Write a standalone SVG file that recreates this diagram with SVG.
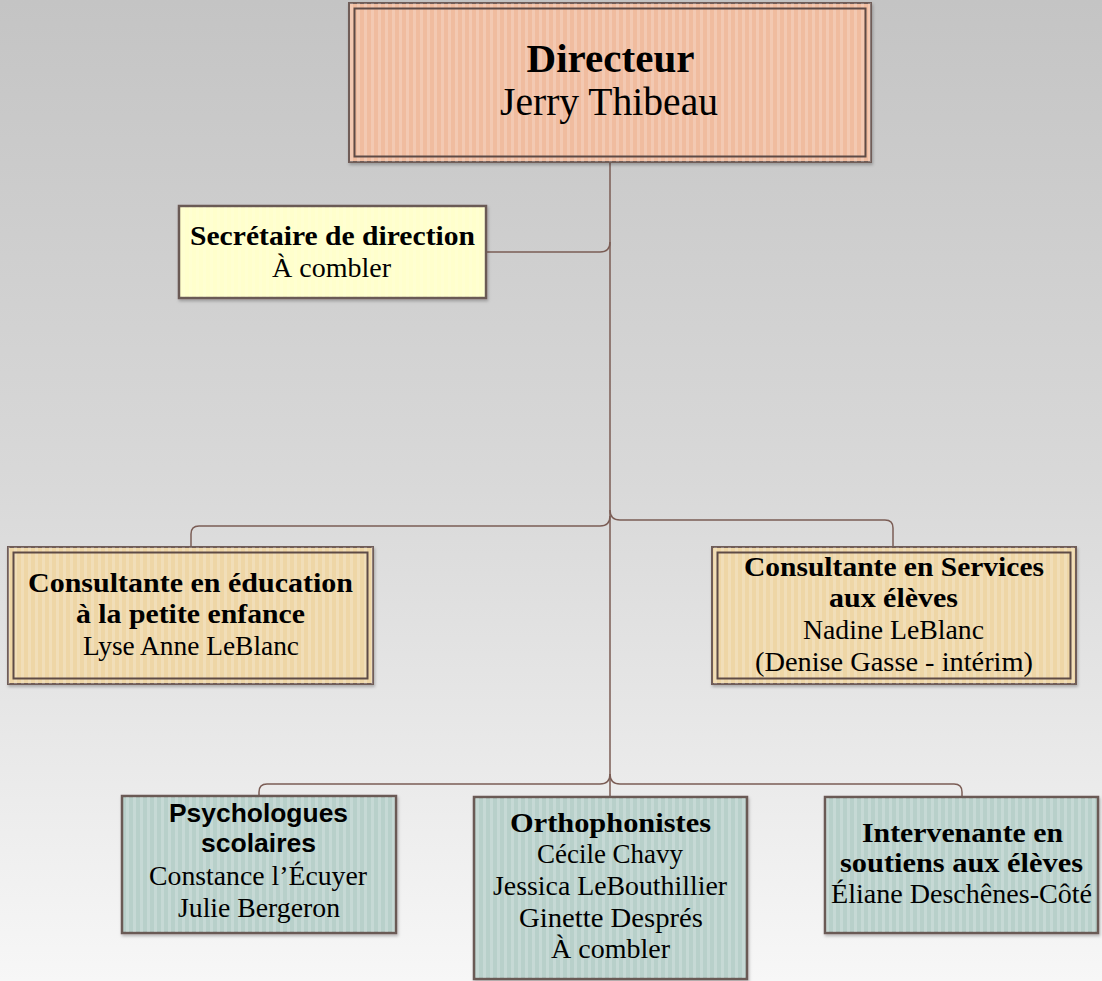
<svg xmlns="http://www.w3.org/2000/svg" width="1102" height="981" viewBox="0 0 1102 981">
<defs>
  <linearGradient id="bg" x1="0" y1="0" x2="0" y2="1">
    <stop offset="0" stop-color="#c4c4c4"/>
    <stop offset="0.5" stop-color="#d9d9d9"/>
    <stop offset="1" stop-color="#f7f7f7"/>
  </linearGradient>
  <pattern id="stripes" width="7" height="10" patternUnits="userSpaceOnUse">
    <rect x="0" y="0" width="3" height="10" fill="#ffffff" fill-opacity="0.2"/>
  </pattern>
  <filter id="sh" x="-5%" y="-5%" width="110%" height="115%">
    <feDropShadow dx="1" dy="2" stdDeviation="1.5" flood-color="#000" flood-opacity="0.25"/>
  </filter>
</defs>
<style>
  .conn { fill: none; stroke: #7b5d55; stroke-width: 1.5; }
  .outer { stroke: #6f5d58; stroke-width: 2; }
  .inner { fill: none; stroke: #5e4b46; stroke-width: 2; }
  .single { stroke: #6b5a55; stroke-width: 2.5; }
  .str { fill: url(#stripes); stroke: none; }
  .t { font-family: "Liberation Serif", "DejaVu Serif", serif; font-size: 27.5px; fill: #000; text-anchor: middle; }
  .b { font-weight: bold; }
  .s { font-family: "Liberation Sans", Arial, sans-serif; font-weight: bold; font-size: 25px; fill: #000; text-anchor: middle; }
  .big { font-size: 40px; }
</style>
<rect x="0" y="0" width="1102" height="981" fill="url(#bg)"/>

<g id="connectors">
  <path class="conn" d="M610 162 V797"/>
  <path class="conn" d="M486 252 H600 Q610 252 610 242"/>
  <path class="conn" d="M610 516 Q610 526 600 526 H199 Q191 526 191 534 V547"/>
  <path class="conn" d="M610 510 Q610 520 620 520 H885 Q893 520 893 528 V547"/>
  <path class="conn" d="M610 774 Q610 784 600 784 H267 Q259 784 259 792 V796"/>
  <path class="conn" d="M610 774 Q610 784 620 784 H954 Q962 784 962 792 V797"/>
</g>

<g id="directeur">
  <rect class="outer" x="349" y="3" width="522" height="159" fill="#f0bc9f" filter="url(#sh)"/>
  <rect class="str" x="349" y="3" width="522" height="159"/>
  <rect class="inner" x="354.5" y="8.5" width="511" height="148"/>
  <text class="t b big" x="610.5" y="72" textLength="168" lengthAdjust="spacingAndGlyphs">Directeur</text>
  <text class="t big" x="609" y="115" textLength="218" lengthAdjust="spacingAndGlyphs">Jerry Thibeau</text>
</g>

<g id="secretaire">
  <rect class="single" x="179" y="206" width="307" height="92" fill="#ffffcc" filter="url(#sh)"/>
  <rect class="str" x="180" y="207" width="305" height="90" opacity="0.5"/>
  <text class="t b" x="332.5" y="245" textLength="285" lengthAdjust="spacingAndGlyphs">Secrétaire de direction</text>
  <text class="t" x="331.5" y="277" textLength="119" lengthAdjust="spacingAndGlyphs">À combler</text>
</g>

<g id="consultante-petite-enfance">
  <rect class="outer" x="8" y="547" width="365" height="137" fill="#eed6a6" filter="url(#sh)"/>
  <rect class="str" x="8" y="547" width="365" height="137"/>
  <rect class="inner" x="13.5" y="552.5" width="354" height="126"/>
  <text class="t b" x="190.5" y="592" textLength="325" lengthAdjust="spacingAndGlyphs">Consultante en éducation</text>
  <text class="t b" x="190.5" y="623" textLength="229" lengthAdjust="spacingAndGlyphs">à la petite enfance</text>
  <text class="t" x="191" y="655" textLength="216" lengthAdjust="spacingAndGlyphs">Lyse Anne LeBlanc</text>
</g>

<g id="consultante-services">
  <rect class="outer" x="712" y="547" width="364" height="137" fill="#eed6a6" filter="url(#sh)"/>
  <rect class="str" x="712" y="547" width="364" height="137"/>
  <rect class="inner" x="717.5" y="552.5" width="353" height="126"/>
  <text class="t b" x="894" y="576" textLength="300" lengthAdjust="spacingAndGlyphs">Consultante en Services</text>
  <text class="t b" x="893.5" y="607" textLength="129" lengthAdjust="spacingAndGlyphs">aux élèves</text>
  <text class="t" x="893.5" y="639" textLength="181" lengthAdjust="spacingAndGlyphs">Nadine LeBlanc</text>
  <text class="t" x="894" y="671" textLength="278" lengthAdjust="spacingAndGlyphs">(Denise Gasse - intérim)</text>
</g>

<g id="psychologues">
  <rect class="single" x="122" y="796" width="274" height="137" fill="#b8d0ca" filter="url(#sh)"/>
  <rect class="str" x="123" y="797" width="272" height="135"/>
  <text class="s" x="258.5" y="822" textLength="179" lengthAdjust="spacingAndGlyphs">Psychologues</text>
  <text class="s" x="258.5" y="852" textLength="115" lengthAdjust="spacingAndGlyphs">scolaires</text>
  <text class="t" x="258" y="885" textLength="218" lengthAdjust="spacingAndGlyphs">Constance l’Écuyer</text>
  <text class="t" x="259" y="917" textLength="162" lengthAdjust="spacingAndGlyphs">Julie Bergeron</text>
</g>

<g id="orthophonistes">
  <rect class="single" x="474" y="797" width="273" height="182" fill="#b8d0ca" filter="url(#sh)"/>
  <rect class="str" x="475" y="798" width="271" height="180"/>
  <text class="t b" x="610.5" y="832" textLength="201" lengthAdjust="spacingAndGlyphs">Orthophonistes</text>
  <text class="t" x="610" y="863" textLength="146" lengthAdjust="spacingAndGlyphs">Cécile Chavy</text>
  <text class="t" x="610" y="895" textLength="234" lengthAdjust="spacingAndGlyphs">Jessica LeBouthillier</text>
  <text class="t" x="611" y="927" textLength="184" lengthAdjust="spacingAndGlyphs">Ginette Després</text>
  <text class="t" x="610.5" y="958" textLength="119" lengthAdjust="spacingAndGlyphs">À combler</text>
</g>

<g id="intervenante">
  <rect class="single" x="825" y="797" width="273" height="136" fill="#b8d0ca" filter="url(#sh)"/>
  <rect class="str" x="826" y="798" width="271" height="134"/>
  <text class="t b" x="962.5" y="842" textLength="201" lengthAdjust="spacingAndGlyphs">Intervenante en</text>
  <text class="t b" x="961.5" y="872" textLength="243" lengthAdjust="spacingAndGlyphs">soutiens aux élèves</text>
  <text class="t" x="961.5" y="903" textLength="261" lengthAdjust="spacingAndGlyphs">Éliane Deschênes-Côté</text>
</g>
</svg>
